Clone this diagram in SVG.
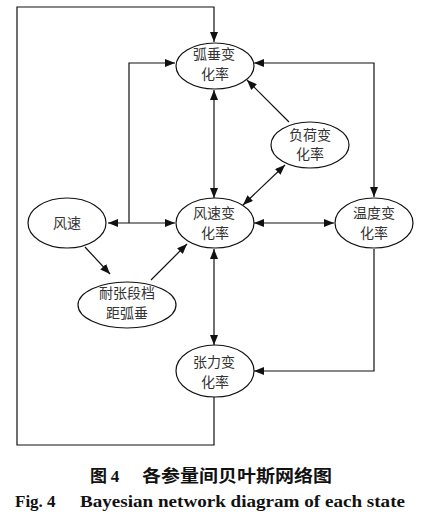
<svg xmlns="http://www.w3.org/2000/svg" width="423" height="518" viewBox="0 0 423 518">
<style>
.n ellipse{fill:#fff;stroke:#111;stroke-width:1.2}
.n text{font-family:"Noto Sans CJK SC","Noto Sans",sans-serif;font-size:14px;fill:#333;text-anchor:middle}
#edges path{fill:none;stroke:#111;stroke-width:1.2}
.cap{font-weight:bold;fill:#111}
</style>
<defs>
<marker id="a" viewBox="0 0 10 8" refX="10" refY="4" markerWidth="10" markerHeight="8" markerUnits="userSpaceOnUse" orient="auto-start-reverse">
<path d="M0,0 L10,4 L0,8 Z" fill="#111"/>
</marker>
</defs>
<rect width="423" height="518" fill="#fff"/>
<g id="edges">
<path d="M214,397 V445 H17 V7 H214 V42" marker-end="url(#a)"/>
<path d="M129,223 V63 H175" marker-end="url(#a)"/>
<path d="M108,223 H175" marker-start="url(#a)" marker-end="url(#a)"/>
<path d="M254,63 H374 V197" marker-start="url(#a)" marker-end="url(#a)"/>
<path d="M214,90 V198" marker-start="url(#a)" marker-end="url(#a)"/>
<path d="M289,122 L247,80" marker-end="url(#a)"/>
<path d="M285,165 L243,205" marker-start="url(#a)" marker-end="url(#a)"/>
<path d="M254,223 H334" marker-start="url(#a)" marker-end="url(#a)"/>
<path d="M85,247 L110,274" marker-end="url(#a)"/>
<path d="M151,280 L187,244" marker-end="url(#a)"/>
<path d="M214,249 V345" marker-start="url(#a)" marker-end="url(#a)"/>
<path d="M374,249 V371 H254" marker-end="url(#a)"/>
</g>
<g id="n_huchui" class="n"><ellipse cx="215" cy="66" rx="39" ry="23"/><text x="214" y="59">弧垂变</text><text x="215" y="79">化率</text></g>
<g id="n_fuhe" class="n"><ellipse cx="310" cy="145" rx="39" ry="23"/><text x="310" y="140">负荷变</text><text x="310" y="159">化率</text></g>
<g id="n_fengsu" class="n"><ellipse cx="67" cy="223" rx="39" ry="25"/><text x="67" y="228">风速</text></g>
<g id="n_fengsubh" class="n"><ellipse cx="215" cy="223" rx="39" ry="25"/><text x="214" y="218">风速变</text><text x="215" y="238">化率</text></g>
<g id="n_wendu" class="n"><ellipse cx="374" cy="223" rx="39" ry="25"/><text x="374" y="218">温度变</text><text x="374" y="238">化率</text></g>
<g id="n_naizhang" class="n"><ellipse cx="127" cy="305" rx="49" ry="23"/><text x="127" y="298">耐张段档</text><text x="127" y="318">距弧垂</text></g>
<g id="n_zhangli" class="n"><ellipse cx="215" cy="371" rx="39" ry="26"/><text x="214" y="367">张力变</text><text x="215" y="387">化率</text></g>
<text class="cap" x="90" y="482" font-family="Noto Sans CJK SC, sans-serif" font-size="17">图 <tspan font-family="Liberation Serif, serif">4</tspan></text>
<text class="cap" x="142" y="482" font-family="Noto Sans CJK SC, sans-serif" font-size="17" textLength="190" lengthAdjust="spacingAndGlyphs">各参量间贝叶斯网络图</text>
<text class="cap" x="15" y="507" font-family="Liberation Serif, serif" font-size="17">Fig. 4</text>
<text class="cap" x="80" y="507" font-family="Liberation Serif, serif" font-size="17" textLength="325" lengthAdjust="spacingAndGlyphs">Bayesian network diagram of each state</text>
</svg>
